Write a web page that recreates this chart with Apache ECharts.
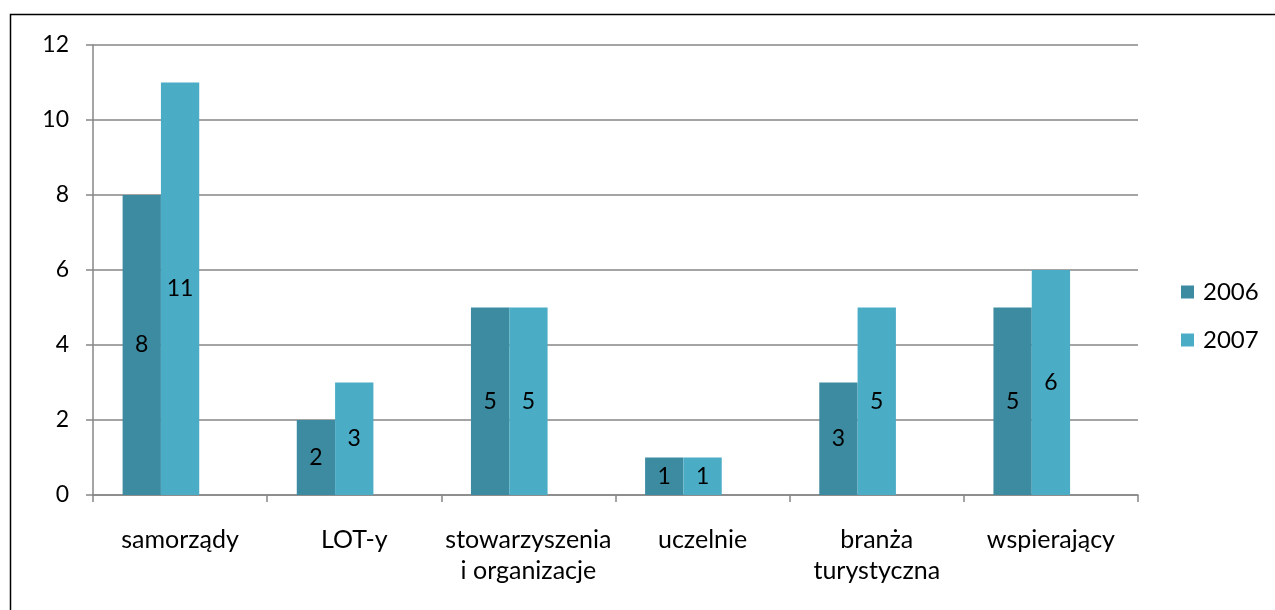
<!DOCTYPE html>
<html>
<head>
<meta charset="utf-8">
<script src="https://cdn.jsdelivr.net/npm/echarts@6/dist/echarts.min.js"></script>
<style>
html,body{margin:0;padding:0;background:#fff;}
#chart{width:1275px;height:610px;}
</style>
</head>
<body>
<div id="chart"></div>
<script>
const categories = ['samorządy', 'LOT-y', 'stowarzyszenia\ni organizacje', 'uczelnie', 'branża\nturystyczna', 'wspierający'];
const values2006 = [8, 2, 5, 1, 3, 5];
const values2007 = [11, 3, 5, 1, 5, 6];
const emptySlot = [null, null, null, null, null, null];
const yTicks = { min: 0, max: 12, interval: 2 };

const FONT = 'Lato';
const chart = echarts.init(document.getElementById('chart'));
const labelStyle = { show: true, position: 'inside', color: '#000', fontFamily: FONT, fontSize: 23 };
chart.setOption({
  animation: false,
  textStyle: { fontFamily: FONT },
  graphic: [{
    type: 'rect', left: 8, top: 12, silent: true,
    shape: { x: 0.5, y: 0.5, width: 1400, height: 800 },
    style: { fill: 'none', stroke: '#000', lineWidth: 1.5 }
  }],
  grid: { left: 93, top: 45, right: 137, bottom: 115 },
  legend: {
    orient: 'vertical', left: 1181, top: 280, padding: 0,
    data: ['2006', '2007'],
    itemWidth: 13, itemHeight: 13, itemGap: 24, icon: 'rect',
    textStyle: { fontFamily: FONT, fontSize: 24, lineHeight: 24, color: '#000', padding: [0, 0, 0, 4] }
  },
  xAxis: {
    type: 'category', data: categories,
    axisLine: { lineStyle: { color: '#868686', width: 1.5 } },
    axisTick: { show: true, length: 7, lineStyle: { color: '#868686', width: 1.5 } },
    axisLabel: { color: '#000', fontFamily: FONT, fontSize: 25, lineHeight: 31, margin: 29, interval: 0 }
  },
  yAxis: {
    type: 'value', min: yTicks.min, max: yTicks.max, interval: yTicks.interval,
    axisLine: { show: true, lineStyle: { color: '#868686', width: 1.5 } },
    axisTick: { show: true, length: 7, lineStyle: { color: '#868686', width: 1.5 } },
    splitLine: { lineStyle: { color: '#868686', width: 1.5 } },
    axisLabel: { color: '#000', fontFamily: FONT, fontSize: 23, margin: 24 }
  },
  series: [
    { name: '2006', type: 'bar', data: values2006, barGap: '0%', barCategoryGap: '34%',
      itemStyle: { color: '#3D8BA1' }, label: labelStyle },
    { name: '2007', type: 'bar', data: values2007,
      itemStyle: { color: '#4BACC6' }, label: labelStyle },
    { name: 'pad', type: 'bar', data: emptySlot, itemStyle: { color: 'transparent' } }
  ]
});
</script>
</body>
</html>
